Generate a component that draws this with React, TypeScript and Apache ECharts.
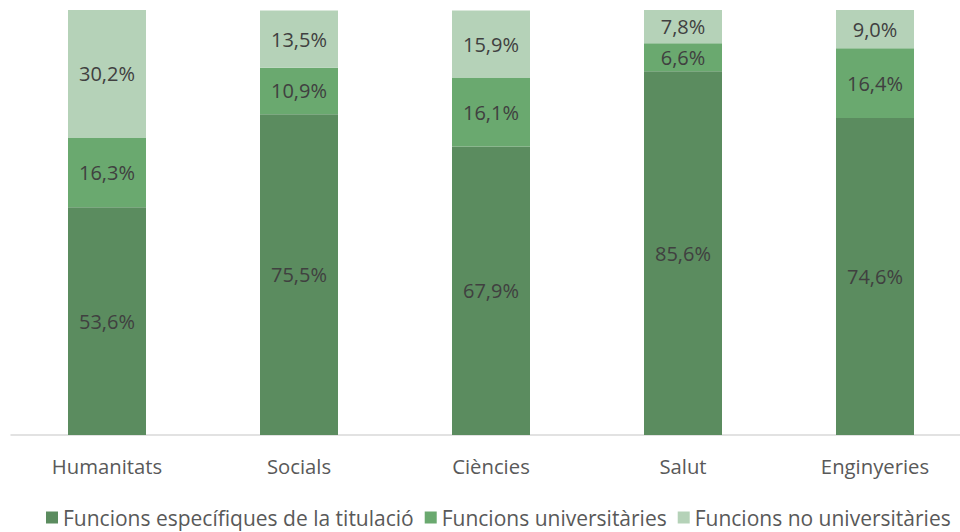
import React, { useEffect, useRef } from "react";
import * as echarts from "echarts";

const categories = ["Humanitats", "Socials", "Ciències", "Salut", "Enginyeries"];
const especifiques = [53.6, 75.5, 67.9, 85.6, 74.6];
const universitaries = [16.3, 10.9, 16.1, 6.6, 16.4];
const noUniversitaries = [30.2, 13.5, 15.9, 7.8, 9.0];
const seriesNames = [
  "Funcions específiques de la titulació",
  "Funcions universitàries",
  "Funcions no universitàries",
];
const colors = ["#5b8c5f", "#6aa96f", "#b5d2b8"];

const FONT = "'Open Sans', 'Noto Sans', sans-serif";

export default function App() {
  const ref = useRef<HTMLDivElement>(null);
  useEffect(() => {
    if (!ref.current) return;
    const chart = echarts.init(ref.current, undefined, { renderer: "svg" });
    const fmt = (p: any) => p.value.toFixed(1).replace(".", ",") + "%";
    const data = [especifiques, universitaries, noUniversitaries];
    chart.setOption({
      animation: false,
      grid: { left: 11, top: 10, right: -11, bottom: 97, containLabel: false, outerBoundsMode: "none" },
      legend: {
        top: 507,
        left: 46,
        itemWidth: 12,
        itemHeight: 12,
        itemGap: 11,
        padding: 0,
        icon: "rect",
        textStyle: { fontFamily: FONT, fontSize: 21, color: "#595959" },
        data: seriesNames,
      },
      xAxis: {
        type: "category",
        data: categories,
        axisLine: { lineStyle: { color: "#d9d9d9", width: 1.5 } },
        axisTick: { show: false },
        axisLabel: { fontFamily: FONT, fontSize: 20.3, color: "#595959", margin: 21 },
      },
      yAxis: {
        type: "value",
        min: 0,
        max: 100,
        show: false,
      },
      series: data.map((d, i) => ({
        name: seriesNames[i],
        type: "bar",
        stack: "total",
        barWidth: 78,
        data: d,
        itemStyle: { color: colors[i] },
        label: {
          show: true,
          position: "inside",
          formatter: fmt,
          fontFamily: FONT,
          fontSize: 20,
          color: "#404040",
        },
      })),
    });
    return () => chart.dispose();
  }, []);
  return (
    <div
      ref={ref}
      style={{ position: "fixed", left: 0, top: 0, width: 960, height: 532, background: "#fff" }}
    />
  );
}
